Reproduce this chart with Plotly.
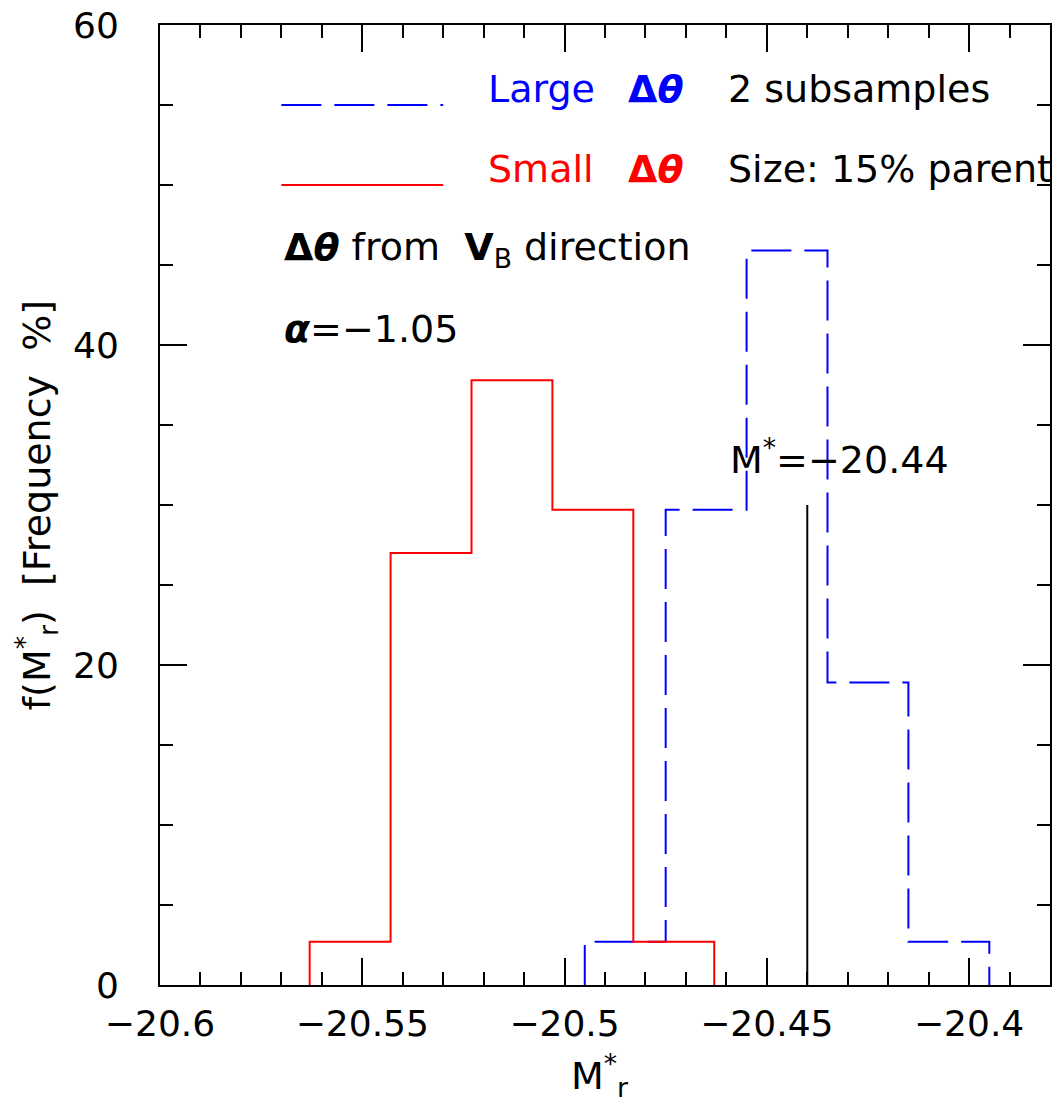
import plotly.graph_objects as go

# Histogram bins (left edge of first bin, bin width) and frequencies in percent
small_start = -20.563
large_start = -20.495
bin_width = 0.02
small_freq = [2.7, 27.0, 37.8, 29.7, 2.7]   # Small Δθ subsample
large_freq = [2.7, 29.7, 45.9, 18.9, 2.7]   # Large Δθ subsample

# Characteristic magnitude marker
m_star = -20.44
m_star_height = 30.0
alpha = -1.05

x_tick_vals = [-20.6, -20.55, -20.5, -20.45, -20.4]
x_tick_text = ["\u221220.6", "\u221220.55", "\u221220.5", "\u221220.45", "\u221220.4"]
y_tick_vals = [0, 20, 40, 60]

FONT = "DejaVu Sans"
BLUE = "#0000ff"
RED = "#ff0000"


def step_outline(start, width, freq):
    """Closed histogram outline that rises from and returns to zero."""
    edges = [start + i * width for i in range(len(freq) + 1)]
    xs = [edges[0]] + edges
    ys = [0] + list(freq) + [0]
    return xs, ys


fig = go.Figure()

xs, ys = step_outline(large_start, bin_width, large_freq)
fig.add_trace(go.Scatter(x=xs, y=ys, mode="lines", line_shape="hv",
                         line=dict(color=BLUE, width=2, dash="40px,13px"),
                         showlegend=False, hoverinfo="skip"))

xs, ys = step_outline(small_start, bin_width, small_freq)
fig.add_trace(go.Scatter(x=xs, y=ys, mode="lines", line_shape="hv",
                         line=dict(color=RED, width=2),
                         showlegend=False, hoverinfo="skip"))

# Vertical marker at M*
fig.add_trace(go.Scatter(x=[m_star, m_star], y=[0, m_star_height], mode="lines",
                         line=dict(color="black", width=2),
                         showlegend=False, hoverinfo="skip"))

# Hand-drawn key lines
fig.add_shape(type="line", x0=-20.570, x1=-20.530, y0=55, y1=55,
              line=dict(color=BLUE, width=2, dash="40px,13px"))
fig.add_shape(type="line", x0=-20.570, x1=-20.530, y0=50, y1=50,
              line=dict(color=RED, width=2))

TS = 38


def label(x, y, text, color="black", size=TS, yshift=16):
    fig.add_annotation(x=x, y=y, text=text, showarrow=False, xanchor="left",
                       yanchor="middle", yshift=yshift,
                       font=dict(family=FONT, size=size, color=color))


label(-20.5193, 55, "Large", BLUE)
label(-20.4849, 55, "<b>\u0394<i>\u03b8</i></b>", BLUE)
label(-20.4600, 55, "2 subsamples")
label(-20.5193, 50, "Small", RED)
label(-20.4849, 50, "<b>\u0394<i>\u03b8</i></b>", RED)
label(-20.4600, 50, "Size: 15% parent")
label(-20.5699, 45, "<b>\u0394<i>\u03b8</i></b> from&nbsp; <b>V</b><sub>B</sub> direction")
label(-20.5699, 40, "<b><i>\u03b1</i></b>=\u2212%.2f" % abs(alpha))
label(-20.4595, 32, "M<sup>*</sup>=\u2212%.2f" % abs(m_star))

# Axis titles
fig.add_annotation(xref="paper", yref="paper", x=(600 - 160) / 892, y=(985.5 - 1076) / 964.5,
                   text="M<sup>*</sup><sub>r</sub>", showarrow=False,
                   xanchor="center", yanchor="middle",
                   font=dict(family=FONT, size=TS, color="black"))
fig.add_annotation(xref="paper", yref="paper", x=(36 - 160) / 892, y=0.5,
                   text="f(M<sup>*</sup><sub>r</sub>)  [Frequency  %]", showarrow=False,
                   textangle=-90, xanchor="center", yanchor="middle",
                   font=dict(family=FONT, size=TS, color="black"))

axis_common = dict(showline=True, linewidth=2, linecolor="black", mirror="allticks",
                   ticks="inside", ticklen=27, tickwidth=2, tickcolor="black",
                   showgrid=False, zeroline=False,
                   tickfont=dict(family=FONT, size=36, color="black"))

fig.update_xaxes(range=[-20.6, -20.38], tickvals=x_tick_vals, ticktext=x_tick_text,
                 minor=dict(dtick=0.01, tick0=-20.6, ticks="inside", ticklen=13,
                            tickwidth=2, tickcolor="black"),
                 ticklabelstandoff=6, **axis_common)
fig.update_yaxes(range=[0, 60], tickvals=y_tick_vals,
                 minor=dict(dtick=5, tick0=0, ticks="inside", ticklen=13,
                            tickwidth=2, tickcolor="black"),
                 ticklabelstandoff=32, **axis_common)

fig.update_layout(width=1057, height=1104,
                  margin=dict(l=160, r=5, t=21, b=118.5),
                  paper_bgcolor="white", plot_bgcolor="white",
                  font=dict(family=FONT, color="black"))

fig.write_html("out.html")
